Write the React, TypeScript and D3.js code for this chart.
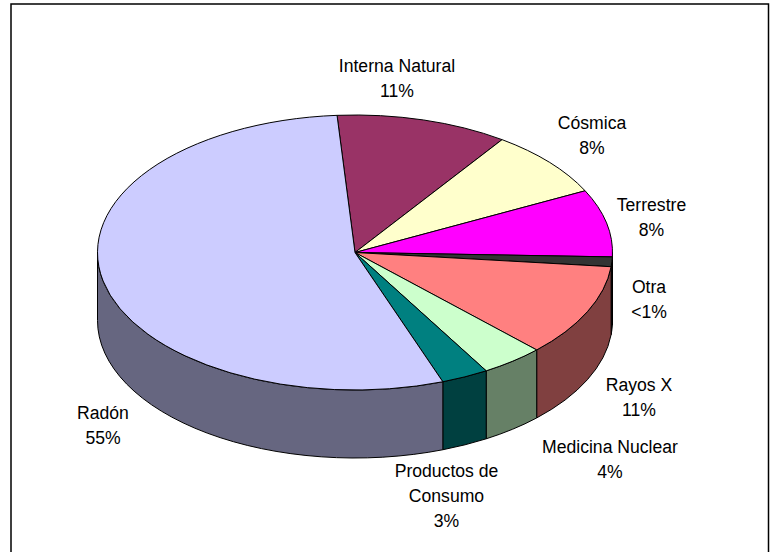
import React from 'react';
import * as d3 from 'd3';

const categories = ['Interna Natural', 'Cósmica', 'Terrestre', 'Otra', 'Rayos X', 'Medicina Nuclear', 'Productos de Consumo', 'Radón'];
const values = [10.9, 8, 8, 1.15, 11, 4, 3, 55];
const valueLabels = ['11%', '8%', '8%', '<1%', '11%', '4%', '3%', '55%'];
const topColors = ['#993366', '#ffffcc', '#ff00ff', '#333333', '#ff8080', '#ccffcc', '#008080', '#ccccff'];
const sideColors = ['#4d1a33', '#808066', '#800080', '#000000', '#804040', '#668066', '#004040', '#666680'];

// label anchor = centre x and first baseline, lines stacked below
const labelPos = [
  { x: 397, y: 72 },
  { x: 592, y: 129 },
  { x: 651.5, y: 211 },
  { x: 649, y: 293 },
  { x: 639, y: 391 },
  { x: 610, y: 453 },
  { x: 446.5, y: 477 },
  { x: 103, y: 419 },
];

const WIDTH = 771;
const HEIGHT = 552;
const cx = 355;
const cy = 252.5;
const rx = 257.5;
const ry = 137.5;
const depth = 68;
const lineHeight = 25;

const rad = (deg: number) => (deg * Math.PI) / 180;

export default function App() {
  const pie = d3.pie<number>().sort(null).startAngle(rad(-4)).endAngle(rad(356));
  const slices = pie(values);
  const arc = d3.arc<d3.PieArcDatum<number>>().innerRadius(0).outerRadius(rx);
  const squash = ry / rx;
  const h = depth / squash;

  // side wall in unsquashed coordinates, only the front half shows
  const wall = (a0: number, a1: number) => {
    const s = Math.max(a0, Math.PI / 2);
    const e = Math.min(a1, (3 * Math.PI) / 2);
    if (e <= s) return null;
    const p = d3.path();
    // d3.path angles start at 3 o'clock, pie angles at 12
    p.arc(0, 0, rx, s - Math.PI / 2, e - Math.PI / 2);
    p.lineTo(rx * Math.sin(e), -rx * Math.cos(e) + h);
    p.arc(0, h, rx, e - Math.PI / 2, s - Math.PI / 2, true);
    p.closePath();
    return p.toString();
  };

  return (
    <svg width={WIDTH} height={HEIGHT} style={{ position: 'absolute', left: 0, top: 0, background: '#fff' }}>
      <rect x={11} y={4} width={757.5} height={560} fill="#fff" stroke="#000" strokeWidth={1.5} />
      <g transform={`translate(${cx},${cy}) scale(1,${squash})`}>
        {slices.map((d, i) => {
          const w = wall(d.startAngle, d.endAngle);
          return w ? (
            <path key={i} d={w} fill={sideColors[i]} stroke="#000" strokeWidth={1} vectorEffect="non-scaling-stroke" />
          ) : null;
        })}
        {slices.map((d, i) => (
          <path key={i} d={arc(d) as string} fill={topColors[i]} stroke="#000" strokeWidth={1} vectorEffect="non-scaling-stroke" />
        ))}
      </g>
      <g fontFamily="'Liberation Sans', Arial, sans-serif" fontSize={17.6} textAnchor="middle" fill="#000">
        {categories.map((name, i) => {
          const lines = name === 'Productos de Consumo' ? ['Productos de', 'Consumo'] : [name];
          return (
            <text key={name} x={labelPos[i].x} y={labelPos[i].y}>
              {lines.concat(valueLabels[i]).map((t, j) => (
                <tspan key={j} x={labelPos[i].x} dy={j === 0 ? 0 : lineHeight}>{t}</tspan>
              ))}
            </text>
          );
        })}
      </g>
    </svg>
  );
}
